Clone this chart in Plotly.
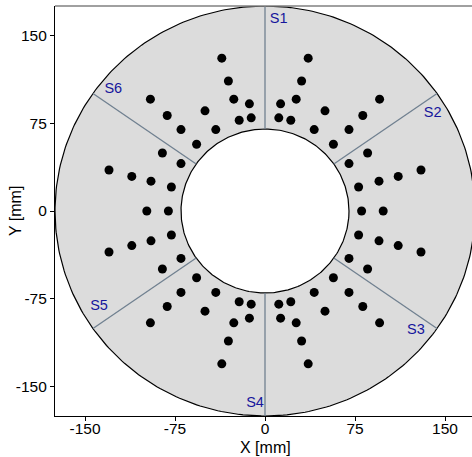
import numpy as np
import plotly.graph_objects as go

# ---- data ----
inner_radius = 70
outer_radius = 175
boundary_deg = [90, 35, -35, -90, -145, 145]
sector_names = ["S1", "S2", "S3", "S4", "S5", "S6"]
label_x = [11.4, 139.7, 125.8, -8.3, -138.3, -126.4]
label_y = [163.4, 83.5, -102.1, -164.2, -81.6, 103.8]

pt_x = [
    36, 30.5, 26, 13, 11.5, 21.5, 50, 41, 57, 70, 81.5, 95.5, 85.5, 70, 78, 95, 111, 130, 80.5, 98.5,
    -36, -30.5, -26, -13, -11.5, -21.5, -50, -41, -57, -70, -81.5, -95.5, -85.5, -70, -78, -95, -111, -130, -80.5, -98.5,
    -36, -30.5, -26, -13, -11.5, -21.5, -50, -41, -57, -70, -81.5, -95.5, -85.5, -70, -78, -95, -111, -130,
    36, 30.5, 26, 13, 11.5, 21.5, 50, 41, 57, 70, 81.5, 95.5, 85.5, 70, 78, 95, 111, 130,
]
pt_y = [
    130.5, 111, 95.5, 91.5, 79.5, 77.5, 85.5, 69.5, 57, 69.5, 81.5, 95.5, 49.5, 40.5, 20.5, 25.5, 29.5, 35, 0, 0,
    130.5, 111, 95.5, 91.5, 79.5, 77.5, 85.5, 69.5, 57, 69.5, 81.5, 95.5, 49.5, 40.5, 20.5, 25.5, 29.5, 35, 0, 0,
    -130.5, -111, -95.5, -91.5, -79.5, -77.5, -85.5, -69.5, -57, -69.5, -81.5, -95.5, -49.5, -40.5, -20.5, -25.5, -29.5, -35,
    -130.5, -111, -95.5, -91.5, -79.5, -77.5, -85.5, -69.5, -57, -69.5, -81.5, -95.5, -49.5, -40.5, -20.5, -25.5, -29.5, -35,
]
tick_vals = [-150, -75, 0, 75, 150]

FONT = "Liberation Sans, Arial, sans-serif"

# ---- figure ----
theta = np.linspace(0, 2 * np.pi, 361)
fig = go.Figure()
fig.add_trace(go.Scatter(
    x=outer_radius * np.cos(theta), y=outer_radius * np.sin(theta),
    mode="lines", fill="toself", fillcolor="#dcdcdc",
    line=dict(color="black", width=1.2), hoverinfo="skip", showlegend=False))
fig.add_trace(go.Scatter(
    x=inner_radius * np.cos(theta), y=inner_radius * np.sin(theta),
    mode="lines", fill="toself", fillcolor="white",
    line=dict(color="black", width=1.2), hoverinfo="skip", showlegend=False))

for b in boundary_deg:
    a = np.deg2rad(b)
    fig.add_trace(go.Scatter(
        x=[inner_radius * np.cos(a), outer_radius * np.cos(a)],
        y=[inner_radius * np.sin(a), outer_radius * np.sin(a)],
        mode="lines", line=dict(color="#708090", width=1.3),
        hoverinfo="skip", showlegend=False))

fig.add_trace(go.Scatter(
    x=pt_x, y=pt_y, mode="markers",
    marker=dict(color="black", size=9), showlegend=False))

fig.add_trace(go.Scatter(
    x=label_x, y=label_y, mode="text", text=sector_names,
    textfont=dict(family=FONT, size=14.5, color="#16169c"),
    textposition="middle center", hoverinfo="skip", showlegend=False))

axis_common = dict(
    showgrid=False, zeroline=False, showline=True, linecolor="black", linewidth=1.2,
    ticks="outside", ticklen=4, tickcolor="black", tickwidth=1.1,
    tickvals=tick_vals, ticktext=[str(v) for v in tick_vals],
    tickfont=dict(family=FONT, size=15.5, color="black"),
)
fig.update_xaxes(range=[-175, 172.5], ticklabelstandoff=-6, **axis_common)
fig.update_yaxes(range=[-175, 175], **axis_common)

fig.update_layout(
    width=472, height=457,
    margin=dict(l=55, r=0, t=6, b=41),
    plot_bgcolor="white", paper_bgcolor="white",
    shapes=[dict(type="line", xref="paper", yref="paper", x0=0, x1=1, y0=1, y1=1,
                 line=dict(color="#808080", width=1.6))],
    annotations=[
        dict(text="X [mm]", xref="x", yref="paper", x=0, y=0, yshift=-31,
             showarrow=False, yanchor="middle", xanchor="center",
             font=dict(family=FONT, size=16, color="black")),
        dict(text="Y [mm]", xref="paper", yref="y", x=0, y=0, xshift=-40,
             showarrow=False, textangle=-90, xanchor="center", yanchor="middle",
             font=dict(family=FONT, size=16, color="black")),
    ],
)

fig.write_html("out.html", config={"displayModeBar": False},
               post_script="document.body.style.margin='0';document.body.style.overflow='hidden';")
